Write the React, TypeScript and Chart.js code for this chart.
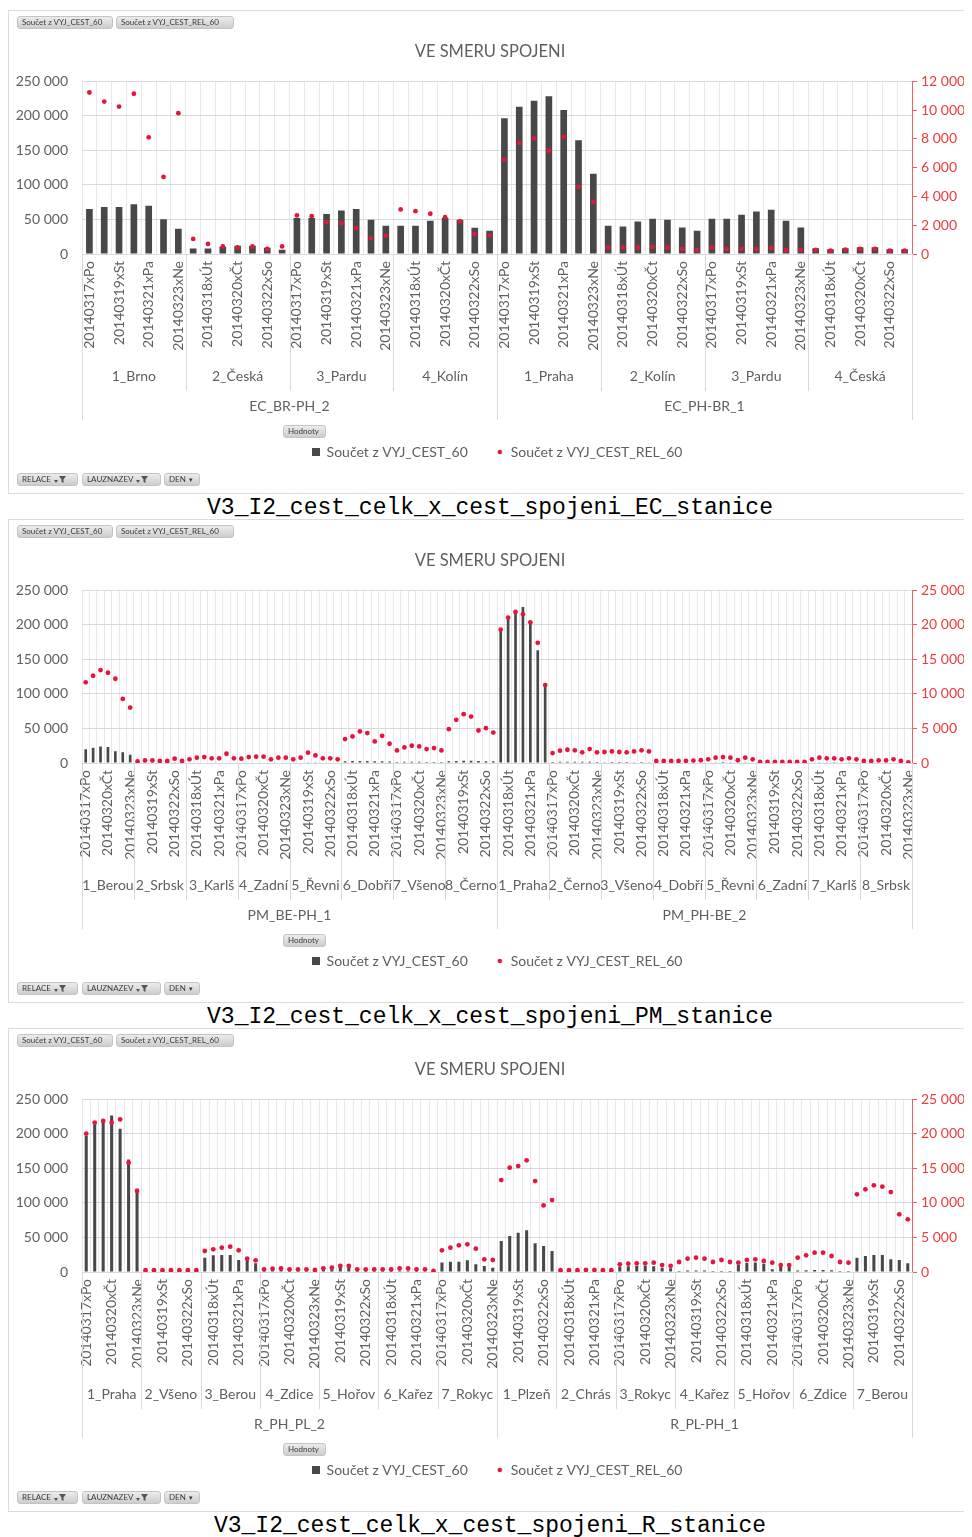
import React, { useEffect, useRef } from 'react';
import { Chart, registerables } from 'chart.js';

Chart.register(...registerables);
Chart.defaults.font.family = 'Lato, "Open Sans", sans-serif';

// ---------- data ----------
const DAYS = ['20140317xPo', '20140318xÚt', '20140319xSt', '20140320xČt', '20140321xPa', '20140322xSo', '20140323xNe'];

const LEFT_MAX = 250000;
const LEFT_STEP = 50000;

const EC_DIRECTIONS = ['EC_BR-PH_2', 'EC_PH-BR_1'];
const EC_STATIONS = ['1_Brno', '2_Česká', '3_Pardu', '4_Kolín', '1_Praha', '2_Kolín', '3_Pardu', '4_Česká'];
const EC_CEST = [
  65000, 68000, 68000, 72000, 70000, 50500, 36500,
  8000, 8000, 10600, 12000, 12000, 9000, 6000,
  52000, 52000, 58000, 63000, 65000, 49500, 41000,
  41000, 41000, 48000, 52000, 49500, 38000, 33500,
  196800, 213300, 222000, 228400, 208400, 164700, 116200,
  40800, 39800, 47100, 51000, 49600, 38300, 33500,
  51000, 51000, 56900, 61700, 64100, 48100, 38300,
  8300, 7000, 8300, 9800, 9800, 7000, 7000,
];
const EC_REL = [
  11230, 10600, 10250, 11140, 8110, 5360, 9790,
  1050, 700, 530, 460, 530, 350, 530,
  2680, 2630, 2210, 2140, 1790, 1090, 1280,
  3100, 2980, 2800, 2560, 2260, 1400, 1300,
  6570, 7730, 8040, 7180, 8150, 4660, 3610,
  460, 460, 460, 500, 460, 350, 280,
  460, 350, 350, 350, 420, 280, 280,
  280, 230, 300, 350, 350, 230, 230,
];
const EC_RIGHT_MAX = 12000;
const EC_RIGHT_STEP = 2000;

const PM_DIRECTIONS = ['PM_BE-PH_1', 'PM_PH-BE_2'];
const PM_STATIONS = ['1_Berou', '2_Srbsk', '3_Karlš', '4_Zadní', '5_Řevni', '6_Dobří', '7_Všeno', '8_Černo',
  '1_Praha', '2_Černo', '3_Všeno', '4_Dobří', '5_Řevni', '6_Zadní', '7_Karlš', '8_Srbsk'];
const PM_CEST = [
  20000, 22000, 24000, 23000, 17000, 15500, 12000,
  600, 500, 500, 600, 500, 400, 400,
  800, 700, 900, 800, 900, 700, 600,
  700, 800, 900, 800, 800, 700, 600,
  800, 900, 1200, 1000, 900, 800, 700,
  2500, 2800, 3000, 3000, 2600, 2700, 2200,
  1500, 1700, 1800, 1800, 1600, 1600, 1400,
  2500, 3000, 3200, 3200, 2800, 2600, 2400,
  194700, 211500, 218700, 225900, 204300, 163400, 113000,
  1500, 1800, 1900, 1900, 1700, 1800, 1500,
  1200, 1300, 1300, 1300, 1200, 1300, 1100,
  500, 500, 500, 500, 500, 600, 600,
  900, 1100, 1300, 1100, 700, 1100, 900,
  400, 400, 400, 400, 400, 400, 400,
  900, 1100, 1000, 1000, 900, 1000, 900,
  600, 600, 700, 700, 800, 600, 400,
];
const PM_REL = [
  11680, 12640, 13460, 13070, 12200, 9280, 8030,
  230, 380, 380, 290, 290, 620, 290,
  530, 770, 860, 670, 670, 1340, 670,
  620, 860, 910, 910, 530, 770, 770,
  530, 770, 1490, 1100, 670, 670, 530,
  3460, 3850, 4570, 4330, 3130, 3940, 2790,
  1820, 2250, 2500, 2400, 2020, 2160, 1820,
  4900, 6250, 7070, 6730, 4710, 5050, 4410,
  19330, 21060, 21870, 21540, 20380, 17400, 11290,
  1440, 1780, 1920, 1830, 1540, 2020, 1540,
  1590, 1680, 1590, 1540, 1680, 1830, 1680,
  300, 300, 300, 300, 320, 350, 400,
  530, 770, 860, 770, 400, 770, 530,
  150, 150, 150, 150, 150, 150, 150,
  530, 770, 670, 670, 530, 670, 530,
  300, 300, 380, 380, 530, 300, 100,
];
const PM_RIGHT_MAX = 25000;
const PM_RIGHT_STEP = 5000;

const R_DIRECTIONS = ['R_PH_PL_2', 'R_PL-PH_1'];
const R_STATIONS = ['1_Praha', '2_Všeno', '3_Berou', '4_Zdice', '5_Hořov', '6_Kařez', '7_Rokyc',
  '1_Plzeň', '2_Chrás', '3_Rokyc', '4_Kařez', '5_Hořov', '6_Zdice', '7_Berou'];
const R_CEST = [
  196900, 213800, 218600, 226800, 207500, 163100, 120700,
  400, 400, 400, 400, 400, 400, 400,
  20800, 24200, 24600, 24600, 17400, 21700, 12600,
  2500, 3000, 3500, 3000, 2500, 2000, 1500,
  3000, 4000, 8000, 9000, 4000, 3500, 3000,
  1500, 1500, 2000, 2000, 1500, 1200, 1000,
  13600, 15000, 15000, 16900, 11100, 8700, 6300,
  44900, 52100, 57000, 60400, 41500, 37600, 30400,
  300, 300, 300, 300, 300, 300, 300,
  8000, 8500, 9000, 9000, 8500, 6000, 5500,
  1500, 2000, 2000, 2000, 1500, 1500, 1500,
  10000, 13000, 13600, 12000, 4000, 9000, 8000,
  2000, 2500, 3000, 3000, 2500, 1500, 1500,
  20800, 23200, 24600, 24600, 18300, 17400, 12600,
];
const R_REL = [
  20030, 21620, 21870, 21620, 22100, 15840, 11730,
  250, 250, 250, 250, 250, 250, 250,
  3040, 3290, 3530, 3670, 3140, 1940, 1690,
  390, 480, 530, 390, 390, 390, 290,
  530, 630, 870, 870, 390, 390, 390,
  390, 390, 530, 530, 390, 390, 150,
  3140, 3530, 3870, 4010, 3380, 1830, 1740,
  13320, 15110, 15340, 16170, 13170, 9650, 10420,
  250, 250, 250, 300, 300, 250, 250,
  1110, 1200, 1260, 1260, 1350, 1000, 900,
  1450, 1930, 2070, 1930, 1450, 1740, 1450,
  1350, 1740, 1830, 1590, 1350, 1000, 1000,
  2070, 2410, 2800, 2800, 2320, 1450, 1350,
  11250, 11970, 12550, 12360, 11580, 8350, 7630,
];
const R_RIGHT_MAX = 25000;
const R_RIGHT_STEP = 5000;

const TITLE = 'VE SMERU SPOJENI';
const SERIES_BAR = 'Součet z VYJ_CEST_60';
const SERIES_DOT = 'Součet z VYJ_CEST_REL_60';

// ---------- styles ----------
const TEXT = '#5f5f5f';
const BAR = '#484848';
const RED = '#e3173e';
const RED_TEXT = '#ee3b3b';
const RED_AXIS = '#f06060';
const W = 962;
const H = 482;

const fmt = (v: any) => String(v).replace(/\B(?=(\d{3})+(?!\d))/g, ' ');

const groupPlugin = {
  id: 'groups',
  afterDraw(chart: any, _args: any, opts: any) {
    const { ctx, chartArea } = chart;
    const x = chart.scales.x;
    const stations: string[] = opts.stations;
    const dirs: string[] = opts.directions;
    const per = 7;
    const n = stations.length * per;
    const cw = x.width / n;
    const perDir = stations.length / dirs.length;
    const b = chartArea.bottom;
    ctx.save();
    ctx.strokeStyle = '#d9d9d9';
    ctx.lineWidth = 1;
    for (let s = 0; s <= stations.length; s++) {
      const px = Math.round(x.left + cw * per * s) + 0.5;
      const long = s % perDir === 0;
      ctx.beginPath();
      ctx.moveTo(px, b);
      ctx.lineTo(px, b + (long ? 166 : 137));
      ctx.stroke();
    }
    ctx.fillStyle = TEXT;
    ctx.font = '14px Lato, "Open Sans", sans-serif';
    ctx.textAlign = 'center';
    ctx.textBaseline = 'middle';
    stations.forEach((st, s) => {
      ctx.fillText(st, x.left + cw * per * (s + 0.5), b + 122);
    });
    dirs.forEach((d, i) => {
      ctx.fillText(d, x.left + cw * per * perDir * (i + 0.5), b + 152);
    });
    ctx.restore();
  },
};

function PivotChart(props: any) {
  const { stations, directions, cest, rel, rightMax, rightStep, labelEvery, barPct } = props;
  const ref = useRef<HTMLCanvasElement>(null);
  useEffect(() => {
    const labels: string[] = stations.flatMap(() => DAYS);
    const sq = document.createElement('canvas');
    sq.width = 8; sq.height = 8;
    const c1 = sq.getContext('2d')!;
    c1.fillStyle = BAR; c1.fillRect(0, 0, 8, 8);
    const dot = document.createElement('canvas');
    dot.width = 6; dot.height = 6;
    const c2 = dot.getContext('2d')!;
    c2.fillStyle = RED; c2.beginPath(); c2.arc(3, 3, 2.3, 0, Math.PI * 2); c2.fill();

    const chart = new Chart(ref.current!, {
      type: 'bar',
      data: {
        labels,
        datasets: [
          {
            type: 'line', label: SERIES_DOT, data: rel, yAxisID: 'y1', showLine: false,
            pointRadius: 2.4, pointHoverRadius: 2.4, pointBackgroundColor: RED, pointBorderWidth: 0,
            borderColor: RED, backgroundColor: RED, order: 0,
          } as any,
          {
            type: 'bar', label: SERIES_BAR, data: cest, yAxisID: 'y', backgroundColor: BAR,
            barPercentage: barPct, categoryPercentage: 1, order: 1,
          } as any,
        ],
      },
      options: {
        responsive: false,
        animation: false,
        devicePixelRatio: 1,
        layout: { padding: { top: 0, bottom: 24, left: 0, right: 0 } },
        plugins: {
          title: {
            display: true, text: TITLE, color: TEXT,
            font: { size: 16.5, weight: 'normal' }, padding: { top: 31, bottom: 19.6 },
          },
          legend: {
            position: 'bottom',
            fullSize: false,
            labels: {
              usePointStyle: true, boxWidth: 8, padding: 28, color: TEXT, font: { size: 14 },
              generateLabels: () => [
                { text: SERIES_BAR, pointStyle: sq, fillStyle: BAR, strokeStyle: BAR, lineWidth: 0, hidden: false, datasetIndex: 1, fontColor: TEXT },
                { text: SERIES_DOT, pointStyle: dot, fillStyle: RED, strokeStyle: RED, lineWidth: 0, hidden: false, datasetIndex: 0, fontColor: TEXT },
              ] as any,
            },
          },
          tooltip: { enabled: false },
          groups: { stations, directions },
        } as any,
        scales: {
          x: {
            type: 'category',
            offset: true,
            grid: { color: '#e8e8e8', drawTicks: false, offset: true },
            border: { color: '#d9d9d9' },
            ticks: {
              autoSkip: false, maxRotation: 90, minRotation: 90, padding: 7, color: TEXT,
              font: { size: 14 },
              callback: (_v: any, i: number) => (i % labelEvery === 0 ? labels[i] : ''),
            },
            afterFit: (s: any) => { s.height = 163; },
          },
          y: {
            position: 'left', min: 0, max: LEFT_MAX,
            ticks: { stepSize: LEFT_STEP, padding: 14, color: TEXT, font: { size: 14 }, callback: fmt },
            grid: { color: '#d9d9d9', drawTicks: false },
            border: { display: false },
            afterFit: (s: any) => { s.width = 73; },
          },
          y1: {
            position: 'right', min: 0, max: rightMax,
            ticks: { stepSize: rightStep, padding: 4, color: RED_TEXT, font: { size: 14 }, callback: fmt },
            grid: { drawOnChartArea: false, color: RED_AXIS, tickLength: 5 },
            border: { color: RED_AXIS },
            afterFit: (s: any) => { s.width = 59; },
          },
        } as any,
      },
      plugins: [groupPlugin as any],
    });
    return () => chart.destroy();
  }, []);
  return <canvas ref={ref} width={W} height={H} style={{ position: 'absolute', left: 0, top: 0, width: W, height: H }} />;
}

const btn: React.CSSProperties = {
  position: 'absolute', height: 13, lineHeight: '13px', fontSize: 8, color: '#3a3a3a',
  background: 'linear-gradient(#ececec, #cdcdcd)', borderRadius: 3, border: '1px solid #c4c4c4',
  boxSizing: 'border-box', padding: '0 4px', whiteSpace: 'nowrap', overflow: 'hidden',
  fontFamily: 'Lato, sans-serif', display: 'flex', alignItems: 'center', gap: 3,
};

const Funnel = () => (
  <svg width="12" height="9" viewBox="0 0 12 9">
    <path d="M0 5 L2 8 L4 5 Z" fill="#555" />
    <path d="M5 1 H12 L9.5 4.5 V8 L7.5 7 V4.5 Z" fill="#555" />
  </svg>
);

function Panel(props: any) {
  return (
    <div>
      <div style={{ position: 'relative', width: W, height: H, border: '1px solid #dcdcdc', background: '#fff' }}>
        <PivotChart {...props} />
        <div style={{ ...btn, left: 8, top: 5, width: 96 }}>{SERIES_BAR}</div>
        <div style={{ ...btn, left: 107, top: 5, width: 118 }}>{SERIES_DOT}</div>
        <div style={{ ...btn, left: 274, top: 414, width: 43 }}>Hodnoty</div>
        <div style={{ ...btn, left: 8, top: 462, width: 61 }}>RELACE <Funnel /></div>
        <div style={{ ...btn, left: 73, top: 462, width: 79 }}>LAUZNAZEV <Funnel /></div>
        <div style={{ ...btn, left: 155, top: 462, width: 36 }}>DEN <span style={{ fontSize: 7 }}>▾</span></div>
      </div>
      <div style={{ height: 25, width: W + 2 }}>
        <div style={{ position: 'relative', top: 2, lineHeight: '25px', textAlign: 'center', fontFamily: '"Liberation Mono", "Courier New", monospace', fontSize: 23, color: '#000' }}>
          {props.caption}
        </div>
      </div>
    </div>
  );
}

export default function App() {
  useEffect(() => {
    const prev = document.documentElement.style.overflow;
    document.documentElement.style.overflow = 'hidden';
    document.body.style.overflow = 'hidden';
    return () => {
      document.documentElement.style.overflow = prev;
      document.body.style.overflow = '';
    };
  }, []);
  return (
    <div style={{ paddingTop: 2, background: '#fff' }}>
      <Panel stations={EC_STATIONS} directions={EC_DIRECTIONS} cest={EC_CEST} rel={EC_REL}
        rightMax={EC_RIGHT_MAX} rightStep={EC_RIGHT_STEP} labelEvery={2} barPct={0.45}
        caption="V3_I2_cest_celk_x_cest_spojeni_EC_stanice" />
      <Panel stations={PM_STATIONS} directions={PM_DIRECTIONS} cest={PM_CEST} rel={PM_REL}
        rightMax={PM_RIGHT_MAX} rightStep={PM_RIGHT_STEP} labelEvery={3} barPct={0.36}
        caption="V3_I2_cest_celk_x_cest_spojeni_PM_stanice" />
      <Panel stations={R_STATIONS} directions={R_DIRECTIONS} cest={R_CEST} rel={R_REL}
        rightMax={R_RIGHT_MAX} rightStep={R_RIGHT_STEP} labelEvery={3} barPct={0.36}
        caption="V3_I2_cest_celk_x_cest_spojeni_R_stanice" />
    </div>
  );
}
